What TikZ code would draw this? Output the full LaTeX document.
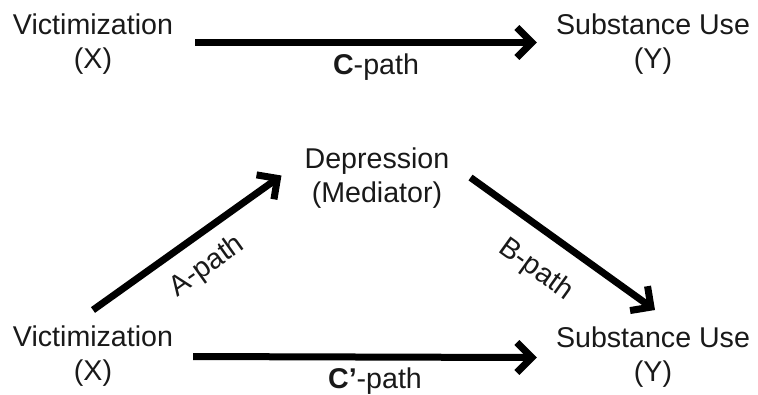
\documentclass[tikz,border=0pt]{standalone}
\usepackage{fontspec}
\setmainfont{Liberation Sans}
\usetikzlibrary{arrows.meta}
\begin{document}
\begin{tikzpicture}[x=1pt,y=-1pt,
  lbl/.style={font=\fontsize{28.6}{34}\selectfont, align=center, inner sep=0pt, anchor=north, text=black!90},
  plbl/.style={font=\fontsize{28.6}{34}\selectfont, inner sep=0pt, text=black!90},
  arr/.style={line width=7pt, -{Straight Barb[length=15pt,width=30pt]}}]
\useasboundingbox[fill=white] (0,0) rectangle (758,394);
% top model
\node[lbl] (x1) at (93,14) {Victimization\\(X)};
\node[lbl] (y1) at (653,14) {Substance Use\\(Y)};
\draw[arr] ([xshift=22pt,yshift=2pt]x1.east) -- node[plbl, below=8pt, xshift=10pt] (c1) {\textbf{C}-path} ([xshift=-19pt,yshift=2pt]y1.west);
% bottom model
\node[lbl] (m) at (377,148) {Depression\\(Mediator)};
\node[lbl] (x2) at (93,326) {Victimization\\(X)};
\node[lbl] (y2) at (653,327) {Substance Use\\(Y)};
\draw[arr] ([yshift=16pt]x2.north) -- node[plbl, sloped, below=14pt, pos=0.51] (a) {A-path} ([xshift=-23pt,yshift=3pt]m.west);
\draw[arr] ([xshift=21pt,yshift=1pt]m.east) -- node[plbl, sloped, below=20pt, pos=0.47] (b) {B-path} ([xshift=2pt,yshift=17pt]y2.north);
\draw[arr] ([xshift=20pt]x2.east) -- node[plbl, below=7pt, xshift=10pt] (c2) {\textbf{C’}-path} ([xshift=-19pt]y2.west);
\end{tikzpicture}
\end{document}
